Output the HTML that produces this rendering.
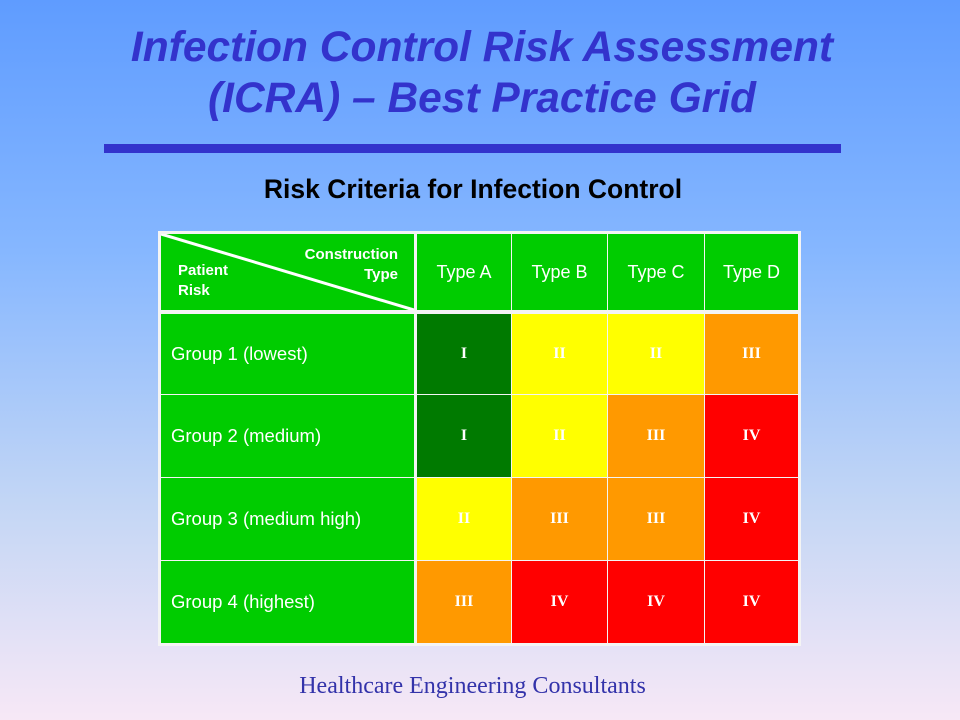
<!DOCTYPE html>
<html><head><meta charset="utf-8"><style>
*{margin:0;padding:0;box-sizing:border-box}
body{width:960px;height:720px;position:relative;overflow:hidden;font-family:"Liberation Sans",Arial,sans-serif;
background:linear-gradient(to bottom,#5f9cff 0%,#86b7ff 35%,#c3d6f5 70%,#f7e8f6 100%);}
.t{position:absolute;left:0;width:964px;text-align:center;color:#3333cc;font-weight:bold;font-style:italic;font-size:42.5px;line-height:50px}
.bar{position:absolute;left:104px;top:144px;width:737px;height:9px;background:#3333cc}
.sub{position:absolute;left:0;width:946px;text-align:center;top:173px;font-size:26.5px;font-weight:bold;color:#000;line-height:32px}
.c{position:absolute;display:flex;align-items:center;justify-content:center;color:#fff}
.r{font-family:"Liberation Serif",serif;font-weight:bold;font-size:16px}
.h{font-size:18px}
.g{font-size:18.5px;justify-content:flex-start;padding-left:10px}
.foot{position:absolute;left:0;width:945px;text-align:center;top:673px;font-family:"Liberation Serif",serif;font-size:24px;color:#3333aa}
</style></head><body>
<div class="t" style="top:23px">Infection Control Risk Assessment</div>
<div class="t" style="top:74px">(ICRA) – Best Practice Grid</div>
<div class="bar"></div>
<div class="sub">Risk Criteria for Infection Control</div>
<div style="position:absolute;left:158px;top:231px;width:643px;height:415px;background:#f4f4f4"></div>
<div class="c" style="left:161px;top:234px;width:253px;height:76px;background:#00cc00"></div>
<svg style="position:absolute;left:161px;top:234px" width="253" height="76"><line x1="0" y1="0" x2="253" y2="76" stroke="#fff" stroke-width="3"/>
<text x="237" y="25" fill="#fff" font-family="Liberation Sans" font-weight="bold" font-size="15" text-anchor="end">Construction</text>
<text x="237" y="45" fill="#fff" font-family="Liberation Sans" font-weight="bold" font-size="15" text-anchor="end">Type</text>
<text x="17" y="41" fill="#fff" font-family="Liberation Sans" font-weight="bold" font-size="15">Patient</text>
<text x="17" y="61" fill="#fff" font-family="Liberation Sans" font-weight="bold" font-size="15">Risk</text></svg>
<div class="c h" style="left:417px;top:234px;width:94px;height:76px;background:#00cc00">Type A</div>
<div class="c h" style="left:512px;top:234px;width:95px;height:76px;background:#00cc00">Type B</div>
<div class="c h" style="left:608px;top:234px;width:96px;height:76px;background:#00cc00">Type C</div>
<div class="c h" style="left:705px;top:234px;width:93px;height:76px;background:#00cc00">Type D</div>

<div class="c g" style="left:161px;top:314px;width:253px;height:80px;background:#00cc00">Group 1 (lowest)</div>
<div class="c r" style="left:417px;top:314px;width:94px;height:80px;background:#007a00">I</div>
<div class="c r" style="left:512px;top:314px;width:95px;height:80px;background:#ffff00">II</div>
<div class="c r" style="left:608px;top:314px;width:96px;height:80px;background:#ffff00">II</div>
<div class="c r" style="left:705px;top:314px;width:93px;height:80px;background:#ff9900">III</div>

<div class="c g" style="left:161px;top:395px;width:253px;height:82px;background:#00cc00">Group 2 (medium)</div>
<div class="c r" style="left:417px;top:395px;width:94px;height:82px;background:#007a00">I</div>
<div class="c r" style="left:512px;top:395px;width:95px;height:82px;background:#ffff00">II</div>
<div class="c r" style="left:608px;top:395px;width:96px;height:82px;background:#ff9900">III</div>
<div class="c r" style="left:705px;top:395px;width:93px;height:82px;background:#ff0000">IV</div>

<div class="c g" style="left:161px;top:478px;width:253px;height:82px;background:#00cc00">Group 3 (medium high)</div>
<div class="c r" style="left:417px;top:478px;width:94px;height:82px;background:#ffff00">II</div>
<div class="c r" style="left:512px;top:478px;width:95px;height:82px;background:#ff9900">III</div>
<div class="c r" style="left:608px;top:478px;width:96px;height:82px;background:#ff9900">III</div>
<div class="c r" style="left:705px;top:478px;width:93px;height:82px;background:#ff0000">IV</div>

<div class="c g" style="left:161px;top:561px;width:253px;height:82px;background:#00cc00">Group 4 (highest)</div>
<div class="c r" style="left:417px;top:561px;width:94px;height:82px;background:#ff9900">III</div>
<div class="c r" style="left:512px;top:561px;width:95px;height:82px;background:#ff0000">IV</div>
<div class="c r" style="left:608px;top:561px;width:96px;height:82px;background:#ff0000">IV</div>
<div class="c r" style="left:705px;top:561px;width:93px;height:82px;background:#ff0000">IV</div>

<div class="foot">Healthcare Engineering Consultants</div>
</body></html>
